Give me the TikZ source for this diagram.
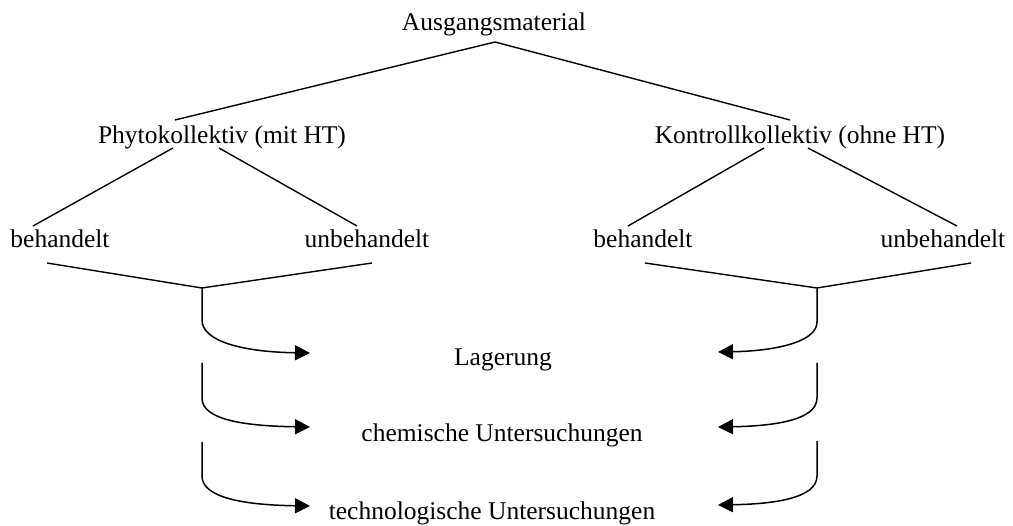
\documentclass[tikz,border=0pt]{standalone}
\usepackage{fontspec}
\setmainfont{Liberation Serif}
\usetikzlibrary{arrows.meta,calc}
\begin{document}
\begin{tikzpicture}[x=1pt,y=-1pt,
  lbl/.style={inner sep=0pt, anchor=base, font=\fontsize{25.5}{30}\selectfont},
  conn/.style={line width=1.4pt},
  flow/.style={line width=1.5pt, -{Triangle[length=15pt,width=15pt]}}]
\useasboundingbox (0,0) rectangle (1013,526);
% texts
\node[lbl] (aus)   at (494,31)  {Ausgangsmaterial};
\node[lbl] (phyto) at (222,144) {Phytokollektiv (mit HT)};
\node[lbl] (kon)   at (800,144) {Kontrollkollektiv (ohne HT)};
\node[lbl] (behL)  at (60,248)  {behandelt};
\node[lbl] (unbL)  at (367,248) {unbehandelt};
\node[lbl] (behR)  at (643,248) {behandelt};
\node[lbl] (unbR)  at (943,248) {unbehandelt};
\node[lbl] (lag)   at (503,366) {Lagerung};
\node[lbl] (chem)  at (502,442) {chemische Untersuchungen};
\node[lbl] (tech)  at (492,520) {technologische Untersuchungen};
% junctions and arrow ends
\coordinate (jL) at (202,288);
\coordinate (jR) at (817,288);
\coordinate (sL2) at (202,363);
\coordinate (sL3) at (202,442);
\coordinate (sR2) at (817,363);
\coordinate (sR3) at (817,441);
\coordinate (tL1) at (310,353);
\coordinate (tL2) at (310,427);
\coordinate (tL3) at (310,506);
\coordinate (tR1) at (718,352);
\coordinate (tR2) at (718,427);
\coordinate (tR3) at (718,505);
% tree connectors
\draw[conn] ($(aus.base)+(1,11)$) -- ($(phyto.base)+(-47,-24)$);
\draw[conn] ($(aus.base)+(1,11)$) -- ($(kon.base)+(-10,-24)$);
\draw[conn] ($(phyto.base)+(-49,4)$) -- ($(behL.base)+(-27,-22)$);
\draw[conn] ($(phyto.base)+(-3,4)$) -- ($(unbL.base)+(-10,-22)$);
\draw[conn] ($(kon.base)+(-36,4)$) -- ($(behR.base)+(-15,-22)$);
\draw[conn] ($(kon.base)+(8,4)$) -- ($(unbR.base)+(14,-22)$);
% merge lines
\draw[conn] ($(behL.base)+(-13,15)$) -- (jL) -- ($(unbL.base)+(5,15)$);
\draw[conn] ($(behR.base)+(2,15)$) -- (jR) -- ($(unbR.base)+(28,15)$);
% flow arrows left
\draw[flow] (jL) -- ++(0,32) .. controls ++(0,22) and ($(tL1)+(-65,-1)$) .. (tL1);
\draw[flow] (sL2) -- ++(0,35) .. controls ++(0,22) and ($(tL2)+(-65,-1)$) .. (tL2);
\draw[flow] (sL3) -- ++(0,34) .. controls ++(0,22) and ($(tL3)+(-65,-1)$) .. (tL3);
% flow arrows right
\draw[flow] (jR) -- ++(0,34) .. controls ++(0,20) and ($(tR1)+(57,-1)$) .. (tR1);
\draw[flow] (sR2) -- ++(0,35) .. controls ++(0,22) and ($(tR2)+(57,-1)$) .. (tR2);
\draw[flow] (sR3) -- ++(0,35) .. controls ++(0,22) and ($(tR3)+(57,-1)$) .. (tR3);
\end{tikzpicture}
\end{document}
